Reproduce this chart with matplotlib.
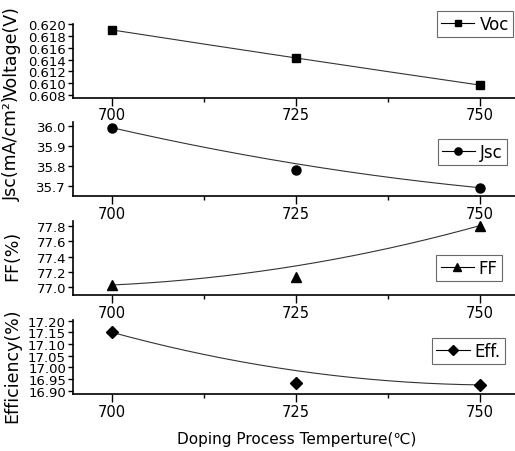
import numpy as np
import matplotlib
matplotlib.use("Agg")
import matplotlib.pyplot as plt
from matplotlib.ticker import FixedLocator

temps = [700, 725, 750]
voc = [0.6190, 0.6142, 0.6097]
jsc = [35.99, 35.78, 35.69]
ff = [77.03, 77.14, 77.80]
eff = [17.15, 16.935, 16.925]

labels = ["Voc", "Jsc", "FF", "Eff."]
ylabels = ["Voltage(V)", "Jsc(mA/cm²)", "FF(%)", "Efficiency(%)"]
markers = ["s", "o", "^", "D"]
msizes = [5.5, 6.5, 7, 6]
yticks = [
    [0.608, 0.610, 0.612, 0.614, 0.616, 0.618, 0.620],
    [35.7, 35.8, 35.9, 36.0],
    [77.0, 77.2, 77.4, 77.6, 77.8],
    [16.90, 16.95, 17.00, 17.05, 17.10, 17.15, 17.20],
]
yfmt = ["%.3f", "%.1f", "%.1f", "%.2f"]
ylims = [(0.6076, 0.6200), (35.647, 36.02), (76.90, 77.865), (16.886, 17.205)]
series = [voc, jsc, ff, eff]

W, H = 515, 452
extents = [(25, 98.5), (122.7, 197.3), (221.7, 296), (320.5, 395)]
legend_anchor = [(513, 12), (507, 140), (502, 256), (505, 339)]
ylabel_centers = [52, 148, 256, 366]

narrow = ["Liberation Sans Narrow", "DejaVu Sans"]

fig = plt.figure(figsize=(W / 100, H / 100), dpi=100)
x0 = 73 / W
for i in range(4):
    top, bot = extents[i]
    ax = fig.add_axes([x0, 1 - bot / H, 1 - x0, (bot - top) / H])
    x = np.array(temps, float)
    y = np.array(series[i], float)
    t = np.linspace(0, 1, 200)
    bx = (1 - t) ** 2 * x[0] + 2 * (1 - t) * t * x[1] + t ** 2 * x[2]
    by = (1 - t) ** 2 * y[0] + 2 * (1 - t) * t * y[1] + t ** 2 * y[2]
    ax.plot(bx, by, color="#333333", lw=0.8)
    ax.plot(x, y, linestyle="none", marker=markers[i], ms=msizes[i], color="black")
    ax.plot([], [], color="black", lw=0.8, marker=markers[i], ms=msizes[i] * 0.8, label=labels[i])
    ax.set_xlim(694.7, 754.8)
    ax.set_ylim(*ylims[i])
    ax.spines["top"].set_visible(False)
    ax.spines["right"].set_visible(False)
    ax.spines["left"].set_linewidth(1.2)
    ax.spines["bottom"].set_linewidth(1.2)
    ax.xaxis.set_major_locator(FixedLocator(temps))
    ax.xaxis.set_minor_locator(FixedLocator([712.5, 737.5]))
    ax.set_yticks(yticks[i])
    ax.set_yticklabels([yfmt[i] % v for v in yticks[i]])
    ax.tick_params(axis="x", which="major", direction="out", length=5.5, width=1, pad=1.5)
    ax.tick_params(axis="x", which="minor", direction="out", length=3, width=1)
    ax.tick_params(axis="y", which="major", direction="out", length=3.5, width=1, pad=1.5)
    for lab in ax.get_xticklabels() + ax.get_yticklabels():
        lab.set_family(narrow)
        lab.set_fontsize(9.5)
    for lab in ax.get_xticklabels():
        lab.set_fontsize(10.5)
    ax.patch.set_alpha(0)
    lx, ly = legend_anchor[i]
    leg = ax.legend(loc="upper right", bbox_to_anchor=(lx / W, 1 - ly / H),
                    bbox_transform=fig.transFigure, frameon=True, fancybox=False,
                    borderpad=0.25, handlelength=2.0, handletextpad=0.3,
                    borderaxespad=0, prop={"family": narrow, "size": 12})
    leg.get_frame().set_edgecolor("#444444")
    leg.get_frame().set_linewidth(0.8)
    fig.text(12 / W, 1 - ylabel_centers[i] / H, ylabels[i], rotation=90,
             ha="center", va="center", fontsize=12.5,
             family=["DejaVu Sans", "Noto Sans CJK SC"])

fig.text(297 / W, 1 - 440 / H, "Doping Process Temperture(℃)", ha="center", va="center",
         fontsize=11, family=["DejaVu Sans", "Noto Sans CJK SC"])

fig.savefig("out.png", dpi=100)
